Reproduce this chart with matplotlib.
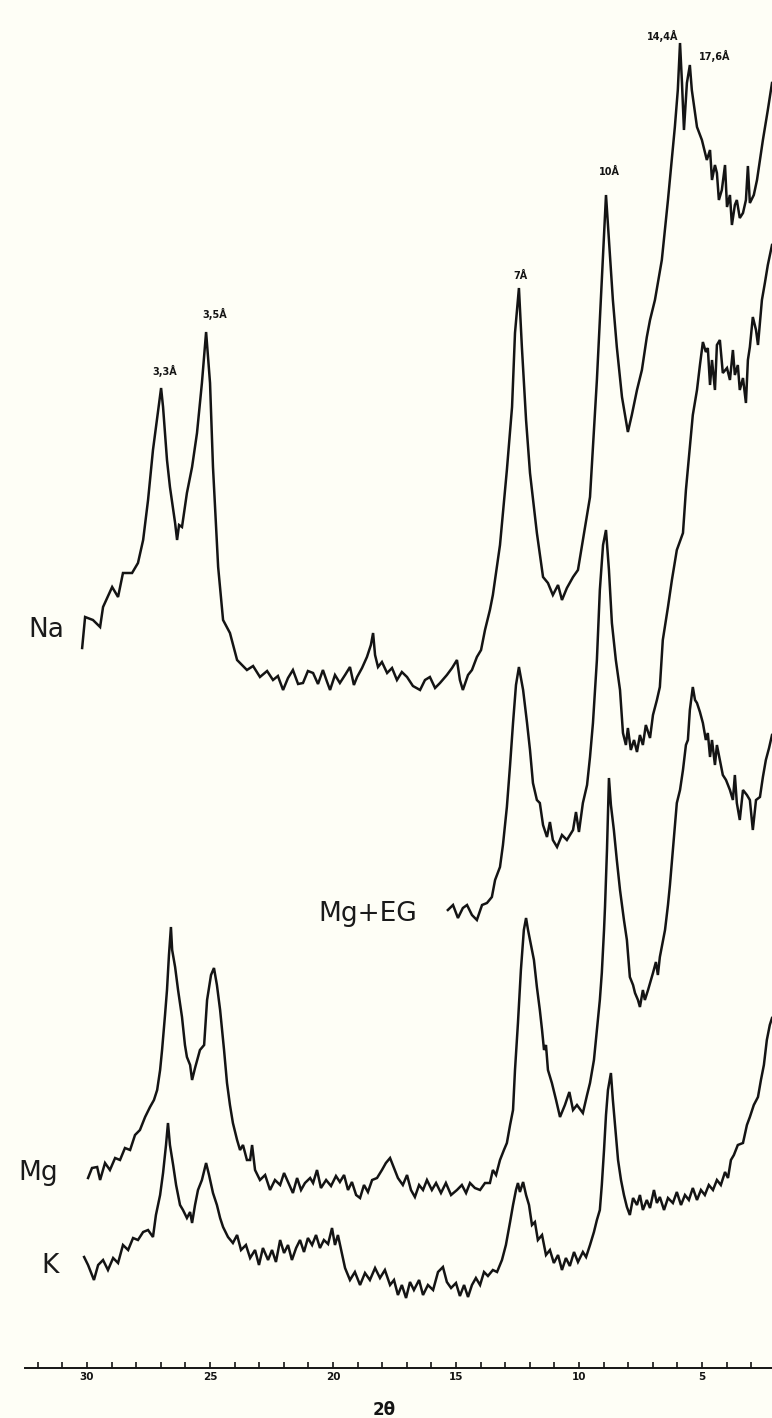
import matplotlib
matplotlib.use("Agg")
import matplotlib.pyplot as plt
from matplotlib.ticker import FixedLocator

# ---------------- data (2-theta in degrees, intensity in arbitrary units) ----------------
na_tth = [30.20, 30.08, 29.76, 29.47, 29.35, 28.98, 28.74, 28.54, 28.17, 27.93, 27.72, 27.52, 27.32, 27.11,
          26.99, 26.91, 26.75, 26.63, 26.42, 26.34, 26.26, 26.14, 25.94, 25.73, 25.53, 25.33, 25.16, 25.00,
          24.88, 24.67, 24.47, 24.19, 23.90, 23.50, 23.25, 22.97, 22.68, 22.44, 22.24, 22.03, 21.83, 21.63,
          21.42, 21.22, 21.02, 20.81, 20.61, 20.41, 20.24, 20.12, 19.92, 19.72, 19.51, 19.31, 19.15, 19.02,
          18.82, 18.62, 18.46, 18.37, 18.29, 18.17, 18.01, 17.80, 17.60, 17.40, 17.20, 16.99, 16.75, 16.46,
          16.26, 16.06, 15.85, 15.65, 15.37, 15.16, 14.96, 14.84, 14.72, 14.51, 14.35, 14.15, 13.98, 13.82,
          13.62, 13.50, 13.21, 12.93, 12.72, 12.60, 12.44, 12.32, 12.15, 11.99, 11.71, 11.46, 11.26, 11.06,
          10.85, 10.69, 10.49, 10.24, 10.04, 9.84, 9.55, 9.27, 9.07, 8.90, 8.78, 8.62, 8.46, 8.25, 8.01,
          7.85, 7.64, 7.44, 7.24, 7.11, 6.91, 6.63, 6.38, 6.10, 5.98, 5.89, 5.81, 5.73, 5.61, 5.49, 5.41,
          5.20, 5.00, 4.80, 4.67, 4.59, 4.47, 4.39, 4.31, 4.19, 4.06, 3.98, 3.86, 3.78, 3.66, 3.58, 3.46,
          3.33, 3.21, 3.13, 3.05, 2.89, 2.76, 2.52, 2.32, 2.15]
na_int = [70, 101, 98, 91, 111, 131, 121, 145, 145, 155, 178, 218, 268, 308,
          330, 311, 258, 231, 195, 178, 193, 191, 225, 251, 285, 335, 386, 335,
          251, 151, 98, 85, 58, 48, 52, 41, 47, 38, 42, 28, 40, 48,
          34, 35, 47, 45, 34, 48, 36, 28, 43, 35, 43, 51, 33, 41,
          50, 61, 73, 85, 63, 51, 56, 45, 50, 38, 46, 41, 32, 28,
          38, 41, 30, 35, 43, 50, 58, 38, 28, 43, 48, 61, 68, 88,
          108, 123, 173, 248, 311, 385, 430, 371, 298, 245, 185, 141, 135, 123,
          133, 118, 130, 141, 148, 178, 221, 338, 438, 523, 478, 418, 371, 321, 286,
          303, 328, 348, 381, 398, 418, 458, 518, 591, 628, 675, 635, 588, 635, 653, 628,
          591, 578, 558, 568, 538, 553, 545, 518, 528, 553, 511, 523, 493, 513, 518, 500,
          505, 518, 552, 515, 523, 538, 578, 608, 635]

mgeg_tth = [15.33, 15.12, 14.92, 14.72, 14.55, 14.35, 14.15, 13.94, 13.74, 13.54, 13.41, 13.21, 13.09, 12.93,
            12.80, 12.68, 12.56, 12.44, 12.27, 12.11, 11.99, 11.87, 11.71, 11.59, 11.46, 11.30, 11.18, 11.06,
            10.89, 10.69, 10.49, 10.24, 10.12, 10.00, 9.84, 9.67, 9.55, 9.43, 9.27, 9.15, 9.02, 8.90, 8.78,
            8.66, 8.50, 8.33, 8.21, 8.09, 8.01, 7.89, 7.76, 7.64, 7.52, 7.40, 7.28, 7.11, 6.99, 6.83, 6.71,
            6.59, 6.38, 6.22, 6.02, 5.77, 5.65, 5.49, 5.37, 5.20, 5.08, 4.96, 4.84, 4.76, 4.67, 4.59, 4.47,
            4.39, 4.27, 4.15, 3.98, 3.86, 3.74, 3.66, 3.54, 3.46, 3.33, 3.21, 3.13, 3.05, 2.93, 2.80, 2.72,
            2.56, 2.44, 2.32, 2.15]
mgeg_int = [38, 43, 30, 40, 43, 33, 28, 43, 45, 51, 68, 81, 103, 141,
            183, 225, 263, 281, 258, 225, 198, 165, 148, 145, 123, 111, 126, 108,
            101, 113, 108, 118, 136, 116, 145, 163, 191, 225, 288, 358, 403, 418, 378,
            325, 288, 258, 215, 203, 220, 198, 208, 196, 213, 203, 223, 210, 233, 248, 261,
            308, 341, 368, 398, 415, 458, 501, 533, 558, 583, 606, 596, 600, 563, 588, 558,
            603, 608, 575, 580, 568, 598, 573, 583, 558, 570, 545, 588, 601, 631, 618, 603,
            648, 665, 683, 703]

mg_tth = [29.96, 29.80, 29.59, 29.47, 29.27, 29.07, 28.86, 28.66, 28.46, 28.25, 28.05, 27.85, 27.64, 27.44,
          27.28, 27.15, 27.03, 26.95, 26.83, 26.75, 26.67, 26.59, 26.54, 26.42, 26.30, 26.14, 26.02, 25.94,
          25.81, 25.73, 25.61, 25.41, 25.24, 25.12, 24.96, 24.84, 24.72, 24.59, 24.43, 24.31, 24.19, 24.07,
          23.90, 23.78, 23.66, 23.50, 23.37, 23.29, 23.17, 22.97, 22.76, 22.56, 22.36, 22.15, 21.99, 21.83,
          21.63, 21.46, 21.30, 21.14, 20.93, 20.81, 20.65, 20.49, 20.28, 20.08, 19.88, 19.72, 19.55, 19.39,
          19.23, 19.06, 18.90, 18.74, 18.58, 18.41, 18.21, 18.01, 17.85, 17.68, 17.52, 17.36, 17.16, 16.99,
          16.83, 16.67, 16.50, 16.34, 16.18, 15.98, 15.81, 15.61, 15.41, 15.20, 14.96, 14.76, 14.59, 14.43,
          14.23, 14.02, 13.82, 13.62, 13.50, 13.37, 13.21, 13.05, 12.93, 12.80, 12.68, 12.60, 12.48, 12.36,
          12.24, 12.15, 12.07, 11.99, 11.83, 11.71, 11.59, 11.50, 11.42, 11.34, 11.26, 11.10, 10.93, 10.77,
          10.57, 10.39, 10.24, 10.08, 9.84, 9.67, 9.55, 9.39, 9.27, 9.15, 9.07, 8.98, 8.94, 8.86, 8.78,
          8.70, 8.58, 8.46, 8.33, 8.17, 8.05, 7.93, 7.80, 7.72, 7.60, 7.52, 7.40, 7.32, 7.19, 6.99, 6.87,
          6.79, 6.71, 6.50, 6.38, 6.30, 6.18, 6.02, 5.89, 5.77, 5.65, 5.57, 5.49, 5.37, 5.28, 5.20, 5.08,
          4.96, 4.84, 4.76, 4.67, 4.59, 4.47, 4.39, 4.27, 4.15, 4.02, 3.86, 3.74, 3.66, 3.58, 3.46, 3.33,
          3.17, 3.05, 2.93, 2.80, 2.64, 2.52, 2.40, 2.27, 2.15]
mg_int = [40, 50, 51, 38, 55, 48, 60, 58, 70, 68, 83, 88, 101, 111,
          118, 128, 148, 168, 203, 228, 263, 291, 268, 251, 228, 201, 173, 161,
          153, 138, 150, 168, 173, 218, 243, 250, 233, 208, 168, 135, 113, 95,
          78, 68, 73, 58, 58, 73, 48, 38, 43, 28, 38, 33, 45, 36,
          25, 40, 28, 35, 40, 35, 48, 30, 38, 32, 42, 36, 43, 28,
          36, 23, 20, 33, 26, 38, 40, 48, 55, 60, 50, 40, 33, 43,
          28, 21, 33, 28, 38, 28, 35, 25, 35, 23, 28, 33, 25, 35,
          30, 28, 35, 35, 48, 43, 58, 68, 75, 93, 108, 148, 195, 248,
          288, 300, 288, 278, 258, 231, 208, 188, 168, 173, 148, 135, 118, 101,
          113, 126, 108, 113, 105, 123, 135, 158, 188, 218, 245, 288, 311, 368, 440,
          413, 388, 358, 328, 298, 278, 241, 233, 225, 218, 211, 228, 218, 228, 245, 256,
          243, 261, 288, 313, 333, 368, 415, 428, 448, 473, 478, 508, 531, 518, 515, 506,
          495, 478, 485, 461, 478, 453, 473, 458, 443, 438, 428, 418, 443, 415, 398, 428,
          423, 418, 388, 418, 421, 441, 458, 470, 483]

k_tth = [30.12, 29.96, 29.72, 29.55, 29.35, 29.15, 28.94, 28.74, 28.54, 28.33, 28.13, 27.93, 27.72, 27.52,
         27.32, 27.20, 27.03, 26.91, 26.79, 26.71, 26.63, 26.50, 26.38, 26.22, 26.10, 25.94, 25.81, 25.73,
         25.61, 25.49, 25.33, 25.16, 25.04, 24.88, 24.72, 24.59, 24.47, 24.27, 24.07, 23.90, 23.74, 23.54,
         23.37, 23.17, 23.01, 22.85, 22.64, 22.48, 22.32, 22.15, 21.99, 21.83, 21.67, 21.50, 21.34, 21.18,
         21.02, 20.85, 20.69, 20.53, 20.37, 20.20, 20.04, 19.92, 19.80, 19.67, 19.51, 19.31, 19.11, 18.90,
         18.70, 18.50, 18.29, 18.09, 17.89, 17.68, 17.52, 17.36, 17.20, 17.03, 16.87, 16.71, 16.50, 16.34,
         16.14, 15.93, 15.73, 15.53, 15.37, 15.20, 15.00, 14.84, 14.67, 14.51, 14.35, 14.19, 14.02, 13.86,
         13.70, 13.50, 13.33, 13.13, 12.97, 12.80, 12.68, 12.56, 12.48, 12.40, 12.27, 12.15, 12.03, 11.91,
         11.79, 11.67, 11.50, 11.34, 11.18, 11.02, 10.85, 10.69, 10.53, 10.37, 10.20, 10.04, 9.84, 9.71,
         9.55, 9.39, 9.27, 9.15, 9.07, 8.98, 8.90, 8.82, 8.70, 8.62, 8.50, 8.41, 8.29, 8.17, 8.05, 7.93,
         7.80, 7.64, 7.52, 7.40, 7.24, 7.11, 6.95, 6.83, 6.71, 6.54, 6.38, 6.18, 6.02, 5.85, 5.69, 5.53,
         5.37, 5.20, 5.04, 4.88, 4.72, 4.55, 4.39, 4.23, 4.06, 3.94, 3.82, 3.70, 3.54, 3.33, 3.17, 3.05,
         2.89, 2.72, 2.60, 2.48, 2.36, 2.24, 2.15]
k_int = [51, 43, 28, 43, 48, 38, 50, 45, 63, 58, 70, 68, 76, 78,
         71, 93, 113, 135, 163, 185, 163, 143, 123, 103, 98, 90, 96, 85,
         103, 118, 128, 145, 133, 115, 103, 90, 81, 71, 65, 73, 58, 63,
         50, 58, 43, 60, 48, 58, 46, 68, 55, 63, 48, 60, 68, 56,
         70, 63, 73, 60, 68, 64, 80, 63, 73, 58, 40, 28, 36, 23,
         35, 28, 40, 30, 38, 23, 28, 13, 23, 10, 26, 18, 28, 13,
         23, 18, 36, 41, 26, 20, 25, 12, 23, 11, 23, 30, 23, 36,
         32, 38, 36, 48, 63, 86, 103, 118, 125, 116, 126, 113, 103, 83,
         86, 68, 73, 53, 58, 45, 53, 38, 50, 42, 56, 46, 56, 51,
         63, 76, 88, 98, 123, 158, 193, 218, 235, 208, 173, 148, 128, 113, 101, 93,
         110, 103, 113, 98, 108, 100, 118, 105, 111, 98, 110, 105, 116, 103, 113, 108,
         120, 108, 118, 113, 123, 118, 128, 123, 136, 130, 148, 153, 163, 165, 183, 191,
         203, 211, 228, 243, 268, 283, 290]

samples = ["Na", "Mg+EG", "Mg", "K"]
offsets = [650, 420, 150, 60]                       # vertical stacking of the patterns
peak_labels = ["3,3Å", "3,5Å", "7Å", "10Å", "14,4Å", "17,6Å"]
peak_tth = [26.83, 24.80, 12.36, 8.74, 6.58, 4.47]
peak_y = [997, 1054, 1092, 1196, 1332, 1312]
major_ticks = [30, 25, 20, 15, 10, 5]
minor_ticks = list(range(3, 33))

# ---------------- figure ----------------
bg = "#fefef6"
fig = plt.figure(figsize=(7.72, 14.18), dpi=100, facecolor=bg)
ax = fig.add_axes([0, 0, 1, 1], facecolor=bg)
ax.set_xlim(33.54, 2.15)
ax.set_ylim(-50, 1368)

ink = "#141414"
series = [(na_tth, na_int), (mgeg_tth, mgeg_int), (mg_tth, mg_int), (k_tth, k_int)]
for (t, v), off in zip(series, offsets):
    ax.plot(t, [val + off for val in v], color=ink, lw=1.8, solid_joinstyle="miter")

# sample labels
label_pos = [(31.67, 738), (18.58, 454), (31.99, 195), (31.50, 102)]
for name, (lx, ly) in zip(samples, label_pos):
    ax.text(lx, ly, name, fontsize=19, color="#1a1a1a", ha="center", va="center",
            family="DejaVu Sans")

# peak d-spacing labels
for lab, px, py in zip(peak_labels, peak_tth, peak_y):
    ax.text(px, py, lab, fontsize=7, fontweight="bold", color=ink, ha="center", va="center")

# axis
for s in ["top", "right", "left"]:
    ax.spines[s].set_visible(False)
ax.spines["bottom"].set_position(("data", 0))
ax.spines["bottom"].set_bounds(32.52, 2.15)
ax.spines["bottom"].set_linewidth(1.4)
ax.spines["bottom"].set_color(ink)
ax.xaxis.set_major_locator(FixedLocator(major_ticks))
ax.xaxis.set_minor_locator(FixedLocator(minor_ticks))
ax.tick_params(axis="x", which="both", direction="in", length=4, width=1.2, color=ink,
               labelsize=7.5, pad=3, labelcolor=ink)
for lbl in ax.get_xticklabels():
    lbl.set_fontweight("bold")
ax.set_yticks([])

fig.text(384 / 772, 1 - 1410 / 1418, "2θ", fontsize=12, fontweight="bold", color=ink,
         ha="center", va="center")

fig.savefig("out.png", dpi=100, facecolor=bg)
